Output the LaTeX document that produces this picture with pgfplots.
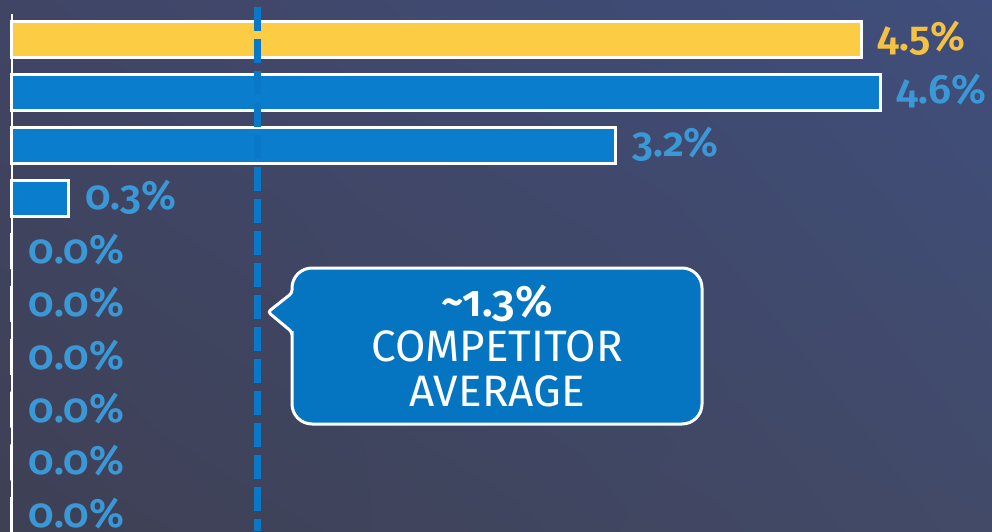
\documentclass[border=0pt]{standalone}
\usepackage{fontspec}
\setmainfont{Fira Sans}[Numbers=OldStyle]
\newfontfamily\semib{Fira Sans SemiBold}[Numbers=OldStyle]
\usepackage{pgfplots}
\pgfplotsset{compat=1.18}
\usetikzlibrary{shadings}
\definecolor{bgTL}{HTML}{404565}
\definecolor{bgTR}{HTML}{3F4E7C}
\definecolor{bgBL}{HTML}{3E4054}
\definecolor{bgBR}{HTML}{424A68}
\definecolor{baryellow}{HTML}{FDCC45}
\definecolor{barblue}{HTML}{0A7ECC}
\definecolor{lblblue}{HTML}{3A98D6}
\definecolor{lblyellow}{HTML}{F5C142}
\definecolor{dashblue}{HTML}{0A78C8}
\definecolor{callout}{HTML}{0575C2}
\begin{document}
\begin{tikzpicture}[x=1pt,y=1pt]
\useasboundingbox (0,0) rectangle (992,531);
\clip (0,0) rectangle (992,531);
\shade[upper left=bgTL, upper right=bgTR, lower left=bgBL, lower right=bgBR] (0,0) rectangle (992,531);
\begin{axis}[
  at={(12pt,0pt)}, anchor=south west,
  scale only axis, width=943.5pt, height=517.44pt,
  xmin=0, xmax=5, ymin=-0.3, ymax=9.5,
  axis y line=left, axis x line=none,
  y axis line style={white, line width=2.5pt, -},
  xtick=\empty, ytick=\empty,
  clip=false,
  /pgf/number format/.cd, fixed, fixed zerofill, precision=1, assume math mode=true,
]
\addplot[xbar, bar shift=0pt, bar width=36pt, draw=white, line width=3pt, fill=baryellow,
  nodes near coords={\pgfmathprintnumber{\pgfplotspointmeta}\%},
  nodes near coords style={text=lblyellow, font=\fontsize{41}{46}\semib, anchor=west, inner sep=0pt, xshift=15pt, yshift=1.5pt},
  point meta=x]
  coordinates {(4.5,9)};
\addplot[xbar, bar shift=0pt, bar width=36pt, draw=white, line width=3pt, fill=barblue,
  nodes near coords={\pgfmathprintnumber{\pgfplotspointmeta}\%},
  nodes near coords style={text=lblblue, font=\fontsize{41}{46}\semib, anchor=west, inner sep=0pt, xshift=15pt, yshift=1.5pt},
  point meta=x]
  coordinates {(4.6,8) (3.2,7) (0.3,6) (0,5) (0,4) (0,3) (0,2) (0,1) (0,0)};
\addplot[sharp plot, no marks, dashblue, line width=7.5pt, dash pattern=on 24pt off 8pt]
  coordinates {(1.3,9.625) (1.3,-0.3)};
\end{axis}
\draw[white, line width=3pt, fill=callout]
  (292,180) [rounded corners=3pt] -- (292,199) -- (268,219) -- (292,238)
  [rounded corners=20pt] -- (292,263) -- (702,263) -- (702,107) -- (292,107) -- cycle;
\node[text=white, align=center, font=\fontsize{44}{45}\selectfont, inner sep=0pt] at (497,185)
  {{\semib \char`\~1.3\%}\\COMPETITOR\\AVERAGE};
\end{tikzpicture}
\end{document}
